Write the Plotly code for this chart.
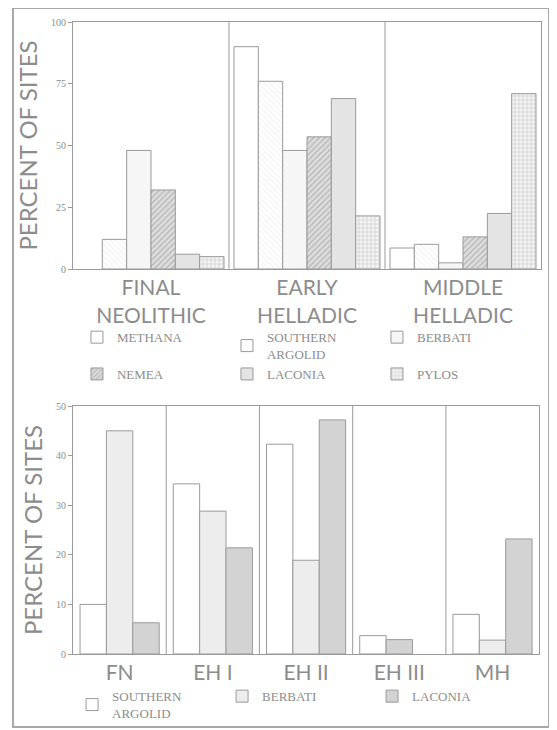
import plotly.graph_objects as go
from plotly.subplots import make_subplots

# ---------------- data ----------------
periods_top = ["FINAL<br>NEOLITHIC", "EARLY<br>HELLADIC", "MIDDLE<br>HELLADIC"]
methana = [None, 90, 8.5]
southern_argolid = [12, 76, 10]
berbati = [48, 48, 2.5]
nemea = [32, 53.5, 13]
laconia = [6, 69, 22.5]
pylos = [5, 21.5, 71]
top_ticks = [0, 25, 50, 75, 100]

periods_bottom = ["FN", "EH I", "EH II", "EH III", "MH"]
sa_bottom = [10, 34.3, 42.3, 3.7, 8]
berbati_bottom = [45, 28.8, 18.9, None, 2.8]
laconia_bottom = [6.3, 21.4, 47.2, 2.9, 23.2]
bottom_ticks = [0, 10, 20, 30, 40, 50]

# ---------------- style ----------------
GRAY = "#8c8c8c"
LINE = "#9a9a9a"
SERIF = "Liberation Serif"
SANS = "Lato"

fig = make_subplots(rows=2, cols=1)

top_series = [
    ("METHANA", methana, dict(color="white")),
    ("SOUTHERN<br>ARGOLID", southern_argolid,
     dict(color="white", pattern=dict(shape="\\", fgcolor="#e2e2e2", size=4, solidity=0.25))),
    ("BERBATI", berbati, dict(color="#f6f6f6")),
    ("NEMEA", nemea,
     dict(color="#dedede", pattern=dict(shape="/", fgcolor="#8e8e8e", bgcolor="#dedede", size=4, solidity=0.35))),
    ("LACONIA", laconia, dict(color="#e4e4e4")),
    ("PYLOS", pylos,
     dict(color="white", pattern=dict(shape="+", fgcolor="#a6a6a6", bgcolor="#f4f4f4", size=4, solidity=0.3))),
]
wt = 0.156
for i, (name, vals, mk) in enumerate(top_series):
    mk = dict(mk)
    mk["line"] = dict(color=LINE, width=1)
    fig.add_trace(go.Bar(
        x=periods_top, y=vals, name=name, marker=mk,
        width=wt, offset=-3 * wt + i * wt, legend="legend",
    ), row=1, col=1)

bottom_series = [
    ("SOUTHERN<br>ARGOLID", sa_bottom, "white"),
    ("BERBATI", berbati_bottom, "#ededed"),
    ("LACONIA", laconia_bottom, "#d3d3d3"),
]
wb = 0.283
for i, (name, vals, col) in enumerate(bottom_series):
    offs = []
    for j in range(len(periods_bottom)):
        k = i
        # close the gap where an earlier series has no bar
        if i == 2 and berbati_bottom[j] is None:
            k = 1
        offs.append(-1.5 * wb + k * wb)
    fig.add_trace(go.Bar(
        x=periods_bottom, y=vals, name=name,
        marker=dict(color=col, line=dict(color=LINE, width=1)),
        width=wb, offset=offs, legend="legend2",
    ), row=2, col=1)

# ---------------- layout ----------------
FIG_W, FIG_H = 549, 722
H_PAPER = 632.0
W_PAPER = 468.0
fig.update_layout(
    width=FIG_W, height=FIG_H,
    margin=dict(l=65, r=16, t=14, b=76, autoexpand=False),
    paper_bgcolor="white", plot_bgcolor="white",
    barmode="overlay",
    font=dict(family=SERIF, color=GRAY),
    legend=dict(
        orientation="h", x=0.0085, y=0.525, xanchor="left", yanchor="top",
        entrywidth=105, entrywidthmode="pixels",
        font=dict(family=SERIF, size=13, color=GRAY),
        bgcolor="rgba(0,0,0,0)", traceorder="normal",
    ),
    legend2=dict(
        orientation="h", x=-0.002, y=-0.043, xanchor="left", yanchor="top",
        entrywidth=105, entrywidthmode="pixels",
        font=dict(family=SERIF, size=13, color=GRAY),
        bgcolor="rgba(0,0,0,0)", traceorder="normal",
    ),
)

axis_common = dict(showline=True, mirror=True, linecolor=LINE, linewidth=1,
                   showgrid=False, zeroline=False, automargin=False)
ytitle = dict(text="PERCENT OF SITES", standoff=6,
              font=dict(family=SANS, size=24, color=GRAY))
fig.update_xaxes(domain=[0, 1], row=1, col=1, ticks="",
                 tickfont=dict(family=SANS, size=21, color=GRAY), **axis_common)
fig.update_yaxes(domain=[1 - 247 / H_PAPER, 1], row=1, col=1, range=[0, 100],
                 tickvals=top_ticks, ticks="outside", ticklen=4, tickcolor=LINE,
                 tickfont=dict(family=SERIF, size=10, color=GRAY),
                 title=ytitle, **axis_common)
fig.update_xaxes(domain=[0, 0.996], row=2, col=1, ticks="",
                 tickfont=dict(family=SANS, size=21, color=GRAY), **axis_common)
fig.update_yaxes(domain=[0, 1 - 384 / H_PAPER], row=2, col=1, range=[0, 50],
                 tickvals=bottom_ticks, ticks="outside", ticklen=4, tickcolor=LINE,
                 tickfont=dict(family=SERIF, size=10, color=GRAY),
                 title=ytitle, **axis_common)

# group dividers
shapes = []
for k in range(len(periods_top) - 1):
    shapes.append(dict(type="line", xref="x", yref="y domain", x0=k + 0.5, x1=k + 0.5,
                       y0=0, y1=1, line=dict(color=LINE, width=1)))
for k in range(len(periods_bottom) - 1):
    shapes.append(dict(type="line", xref="x2", yref="y2 domain", x0=k + 0.5, x1=k + 0.5,
                       y0=0, y1=1, line=dict(color=LINE, width=1)))
# outer frame
shapes.append(dict(type="rect", xref="paper", yref="paper",
                   x0=(5 - 65) / W_PAPER, x1=(541 - 65) / W_PAPER,
                   y0=(646 - 719) / H_PAPER, y1=(646 - 0) / H_PAPER,
                   line=dict(color="#a8a8a8", width=2)))
fig.update_layout(shapes=shapes)

fig.write_html("out.html")
